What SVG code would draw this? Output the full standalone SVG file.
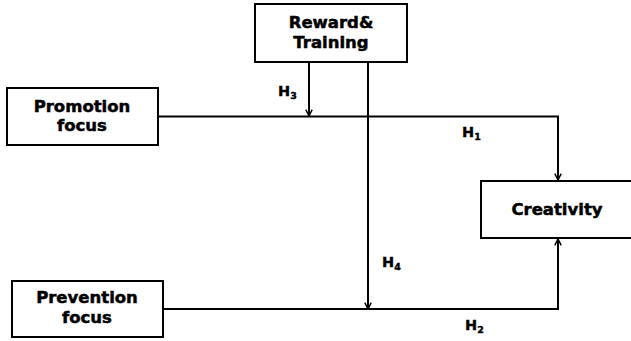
<svg xmlns="http://www.w3.org/2000/svg" width="631" height="341" viewBox="0 0 631 341">
<defs>
<style>
.box{fill:#fff;stroke:#000;stroke-width:2}
.t{font-family:"DejaVu Sans",Verdana,sans-serif;font-weight:bold;font-size:16.5px;text-anchor:middle;fill:#000;stroke:#000;stroke-width:0.5}
.h{font-family:"DejaVu Sans",Verdana,sans-serif;font-weight:bold;font-size:14.5px;fill:#000;stroke:#000;stroke-width:0.4}
.s{font-size:9.5px}
.ln{fill:none;stroke:#000;stroke-width:2}
</style>
<marker id="arr" viewBox="0 0 10 10" refX="9" refY="5" markerWidth="8" markerHeight="8" markerUnits="userSpaceOnUse" orient="auto">
<path d="M1,1 L9,5 L1,9" fill="none" stroke="#000" stroke-width="1.8"/>
</marker>
</defs>
<rect width="631" height="341" fill="#fff"/>
<g id="connectors">
<path class="ln" d="M158,116.5 H558 V180" marker-end="url(#arr)"/>
<path class="ln" d="M163,309 H558 V239" marker-end="url(#arr)"/>
<path class="ln" d="M309,62 V116" marker-end="url(#arr)"/>
<path class="ln" d="M368,62 V309" marker-end="url(#arr)"/>
</g>
<g id="reward">
<rect class="box" x="255" y="4" width="152" height="58"/>
<text class="t" x="331" y="28">Reward&amp;</text>
<text class="t" x="331" y="48">Training</text>
</g>
<g id="promotion">
<rect class="box" x="7" y="88" width="151" height="57"/>
<text class="t" x="82" y="112">Promotion</text>
<text class="t" x="82" y="131">focus</text>
</g>
<g id="prevention">
<rect class="box" x="12" y="281" width="151" height="56"/>
<text class="t" x="87" y="303">Prevention</text>
<text class="t" x="87" y="323">focus</text>
</g>
<g id="creativity">
<rect class="box" x="481" y="181" width="152" height="57"/>
<text class="t" x="557" y="215">Creativity</text>
</g>
<g id="labels">
<text class="h" x="278" y="95.5">H<tspan class="s" dy="3">3</tspan></text>
<text class="h" x="462" y="137">H<tspan class="s" dy="3">1</tspan></text>
<text class="h" x="382" y="267">H<tspan class="s" dy="3">4</tspan></text>
<text class="h" x="465" y="330">H<tspan class="s" dy="3">2</tspan></text>
</g>
</svg>
